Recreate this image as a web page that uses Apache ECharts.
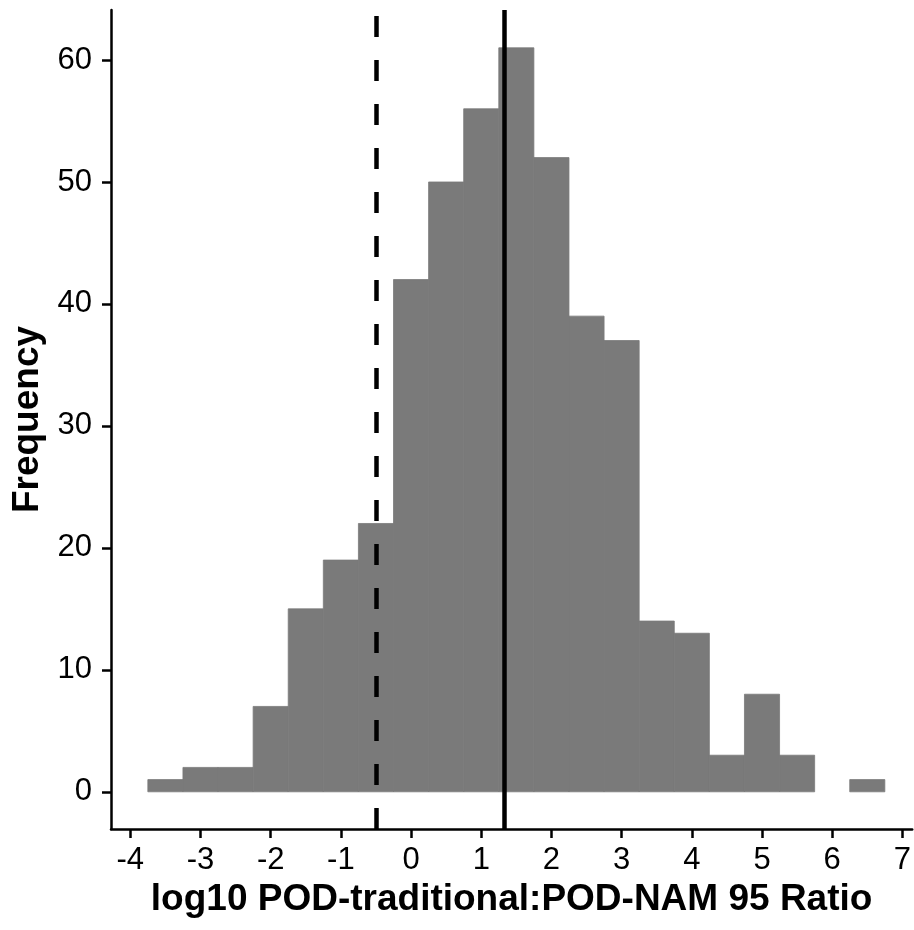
<!DOCTYPE html>
<html>
<head>
<meta charset="utf-8">
<script src="https://cdn.jsdelivr.net/npm/echarts@6/dist/echarts.min.js"></script>
<style>
  html, body { margin: 0; padding: 0; background: #fff; }
  #main { width: 914px; height: 930px; }
</style>
</head>
<body>
<div id="main"></div>
<script>
// histogram bins (left edge of each 0.5-wide bin) and their counts
const binStarts = [-3.75, -3.25, -2.75, -2.25, -1.75, -1.25, -0.75, -0.25, 0.25, 0.75, 1.25,
                   1.75, 2.25, 2.75, 3.25, 3.75, 4.25, 4.75, 5.25, 5.75, 6.25];
const counts = [1, 2, 2, 7, 15, 19, 22, 42, 50, 56, 61, 52, 39, 37, 14, 13, 3, 8, 3, 0, 1];
const binWidth = 0.5;

const xTicks = [-4, -3, -2, -1, 0, 1, 2, 3, 4, 5, 6, 7];
const yTicks = [0, 10, 20, 30, 40, 50, 60];

// reference lines
const dashedAt = -0.5;
const solidAt = 1.33;

const chart = echarts.init(document.getElementById('main'), null, { renderer: 'canvas' });

const font = '"Liberation Sans", Arial, sans-serif';

const option = {
    backgroundColor: '#ffffff',
    animation: false,
    grid: { left: 111, right: 1, top: 10, bottom: 101 },
    xAxis: {
        type: 'value',
        min: -4.275,
        max: 7.14,
        name: 'log10 POD-traditional:POD-NAM 95 Ratio',
        nameLocation: 'middle',
        nameGap: 52,
        nameTextStyle: { fontFamily: font, fontWeight: 'bold', fontSize: 37, color: '#000' },
        axisLine: { onZero: false, lineStyle: { color: '#000', width: 2.5 } },
        axisTick: { show: true, length: 9, lineStyle: { color: '#000', width: 2.5 }, customValues: xTicks },
        axisLabel: { customValues: xTicks, fontFamily: font, fontSize: 31, color: '#000', margin: 16 },
        splitLine: { show: false }
    },
    yAxis: {
        type: 'value',
        min: -3.05,
        max: 64.1,
        name: 'Frequency',
        nameLocation: 'middle',
        nameGap: 64,
        nameRotate: 90,
        nameTextStyle: { fontFamily: font, fontWeight: 'bold', fontSize: 37, color: '#000' },
        axisLine: { show: true, onZero: false, lineStyle: { color: '#000', width: 2.5 } },
        axisTick: { show: true, length: 9, lineStyle: { color: '#000', width: 2.5 }, customValues: yTicks },
        axisLabel: { customValues: yTicks, fontFamily: font, fontSize: 31, color: '#000', margin: 19 },
        splitLine: { show: false }
    },
    series: [{
        type: 'custom',
        data: binStarts.map((b, i) => [b, counts[i]]),
        renderItem: function (params, api) {
            const x0 = api.value(0);
            const n = api.value(1);
            if (!n) return null;
            const p0 = api.coord([x0, 0]);
            const p1 = api.coord([x0 + binWidth, n]);
            return {
                type: 'rect',
                shape: { x: p0[0], y: p1[1], width: p1[0] - p0[0], height: p0[1] - p1[1] },
                style: { fill: '#7a7a7a', stroke: '#7a7a7a', lineWidth: 0.8 }
            };
        },
        markLine: {
            silent: true,
            symbol: 'none',
            label: { show: false },
            data: [
                { xAxis: dashedAt, lineStyle: { color: '#000', width: 4.5, type: [21, 23] } },
                { xAxis: solidAt, lineStyle: { color: '#000', width: 4.5, type: 'solid' } }
            ]
        }
    }]
};

chart.setOption(option);
</script>
</body>
</html>
